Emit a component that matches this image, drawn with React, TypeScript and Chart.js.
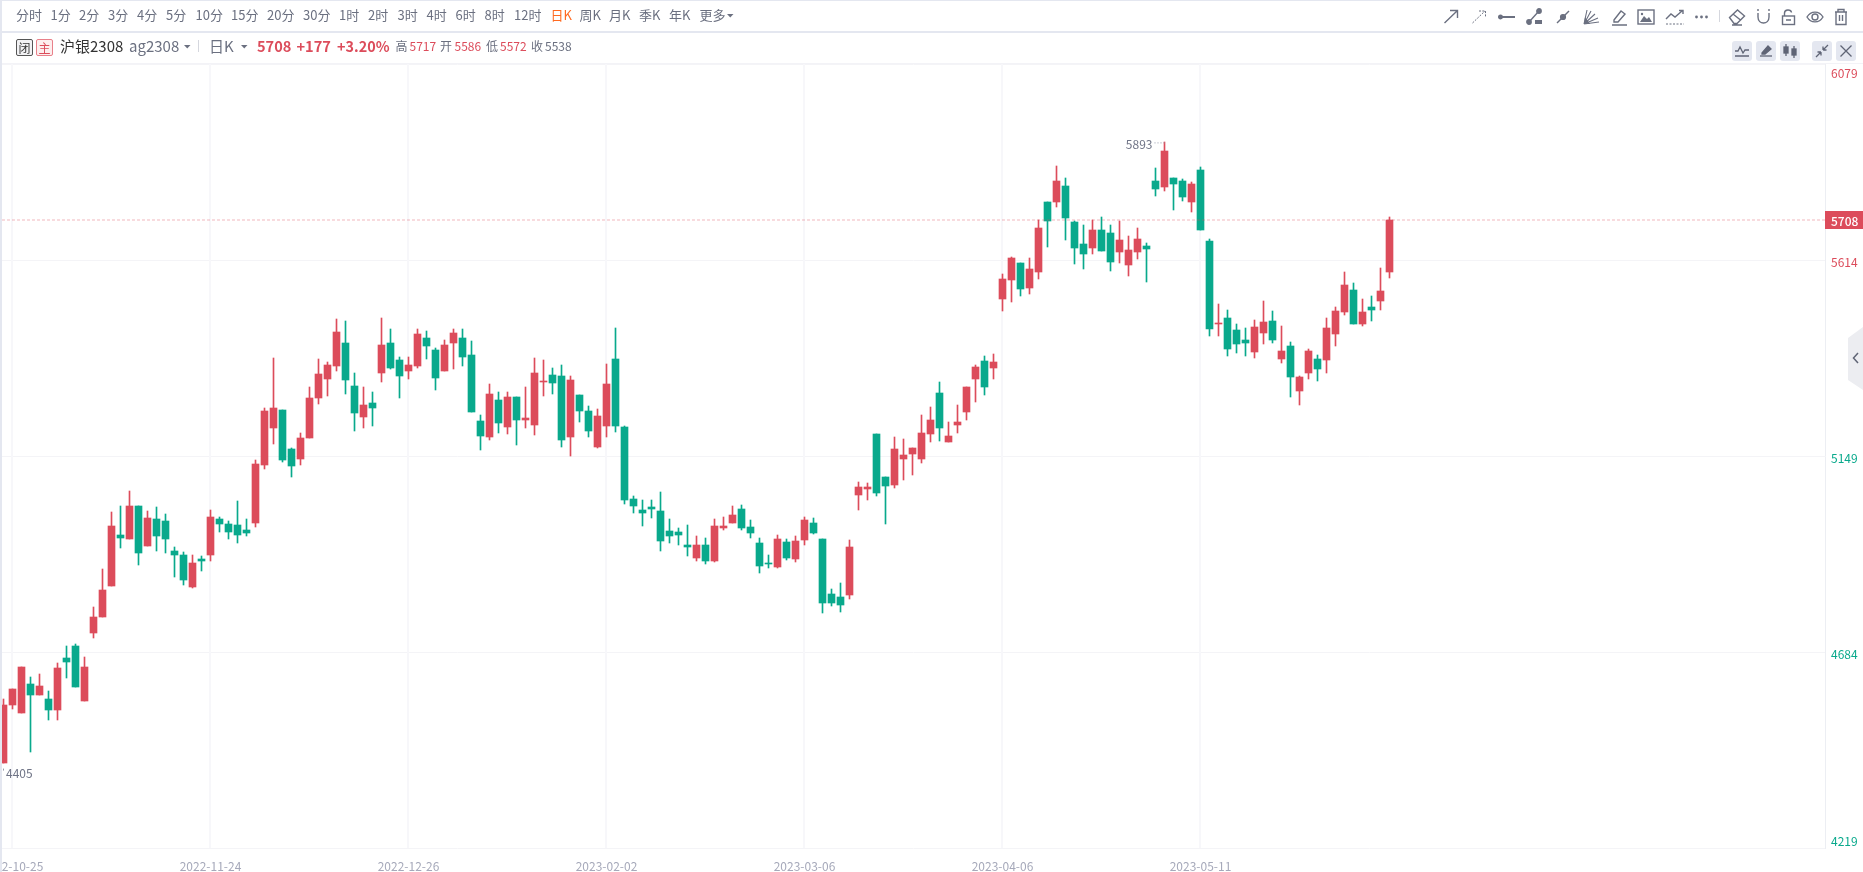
import React, { useEffect, useRef } from "react";
import { Chart, registerables } from "chart.js";

Chart.register(...registerables);

const opens = [
  4421,4558,4539,4608,4582,4572,4546,4670,4698,4568,
  4729,4767,4841,4962,4952,5030,4935,5000,4995,4924,
  4914,4838,4905,4914,5000,4988,4985,4973,4990,5128,
  5215,5258,5166,5142,5192,5287,5332,5363,5417,5315,
  5242,5275,5346,5417,5377,5351,5363,5429,5401,5351,
  5417,5429,5389,5232,5194,5282,5218,5289,5234,5223,
  5325,5341,5339,5194,5294,5256,5170,5220,5379,5218,
  5047,5021,5028,5019,4971,4969,4938,4907,4938,4900,
  4978,4990,5023,4981,4943,4895,4886,4945,4905,4950,
  4990,4952,4822,4815,4819,5057,5071,5201,5099,5080,
  5142,5154,5142,5201,5299,5182,5223,5254,5332,5375,
  5358,5522,5567,5607,5548,5586,5752,5752,5790,5704,
  5652,5643,5685,5678,5633,5602,5633,5647,5801,5787,
  5809,5801,5752,5828,5659,5462,5476,5448,5424,5396,
  5441,5469,5379,5410,5303,5346,5379,5377,5438,5491,
  5543,5462,5503,5517,5586,
];
const closes = [
  4558,4596,4648,4582,4603,4546,4646,4660,4601,4648,
  4767,4831,4983,4954,5030,4919,5002,4959,4952,4914,
  4855,4895,4900,5004,4988,4969,4962,4966,5130,5256,
  5263,5140,5125,5192,5287,5344,5365,5443,5329,5251,
  5270,5263,5412,5358,5339,5365,5438,5410,5334,5412,
  5441,5384,5253,5197,5296,5227,5289,5234,5239,5346,
  5327,5322,5187,5329,5256,5208,5244,5320,5220,5045,
  5030,5014,5023,4947,4959,4962,4933,4938,4900,4983,
  4983,5009,4978,4966,4888,4893,4952,4907,4947,4997,
  4966,4800,4800,4796,4933,5076,5076,5061,5078,5166,
  5151,5168,5204,5234,5215,5197,5230,5313,5360,5313,
  5372,5569,5619,5545,5593,5690,5707,5801,5714,5643,
  5628,5685,5635,5609,5661,5638,5664,5640,5782,5873,
  5794,5763,5794,5685,5450,5465,5403,5415,5417,5455,
  5467,5424,5398,5336,5336,5398,5355,5453,5493,5555,
  5462,5491,5495,5540,5708,
];
const highs = [
  4572,4596,4648,4625,4632,4591,4658,4698,4703,4672,
  4791,4881,5016,5030,5066,5030,5019,5028,5011,4933,
  4921,4914,4912,5021,5004,4995,5042,5000,5140,5263,
  5382,5258,5168,5204,5313,5379,5372,5474,5469,5346,
  5313,5301,5476,5450,5384,5384,5450,5446,5405,5424,
  5450,5450,5422,5246,5320,5301,5301,5289,5313,5382,
  5377,5358,5365,5339,5294,5268,5261,5367,5453,5220,
  5054,5045,5045,5064,5000,4978,4985,4959,4955,5000,
  5004,5030,5033,4997,4955,4914,4962,4952,4959,5004,
  5002,4952,4834,4848,4950,5087,5085,5201,5099,5194,
  5189,5168,5246,5265,5325,5230,5270,5313,5365,5386,
  5391,5581,5621,5607,5619,5709,5752,5837,5809,5707,
  5697,5709,5716,5697,5707,5671,5690,5654,5832,5893,
  5809,5806,5799,5835,5664,5510,5495,5462,5453,5472,
  5517,5493,5457,5419,5339,5403,5389,5476,5503,5586,
  5559,5522,5529,5595,5717,
];
const lows = [
  4421,4549,4539,4447,4582,4523,4523,4622,4601,4568,
  4717,4767,4841,4931,4952,4890,4935,4924,4919,4862,
  4843,4836,4876,4900,4969,4952,4943,4959,4981,5118,
  5178,5135,5099,5128,5192,5272,5291,5351,5296,5208,
  5215,5220,5325,5355,5287,5332,5358,5379,5306,5351,
  5355,5363,5253,5163,5187,5204,5201,5175,5215,5199,
  5291,5296,5170,5149,5230,5194,5168,5194,5206,5035,
  5013,4983,5002,4924,4943,4938,4912,4900,4893,4898,
  4973,4990,4973,4955,4871,4883,4883,4902,4898,4938,
  4964,4777,4793,4779,4810,5021,5045,5054,4988,5073,
  5092,5104,5132,5182,5185,5182,5204,5235,5277,5294,
  5332,5493,5514,5529,5533,5569,5645,5740,5661,5605,
  5593,5628,5635,5588,5607,5576,5616,5562,5766,5778,
  5733,5754,5728,5685,5434,5434,5386,5393,5386,5382,
  5415,5417,5370,5289,5270,5332,5327,5346,5410,5484,
  5462,5457,5469,5495,5572,
];

const dateLabels = ["2022-10-25", "2022-11-24", "2022-12-26", "2023-02-02", "2023-03-06", "2023-04-06", "2023-05-11"];
const dateIndices = [1, 23, 45, 67, 89, 111, 133];
const priceTicks = [6079, 5614, 5149, 4684, 4219];
const lastPrice = 5708;
const prevSettle = 5538;
const highMark = { index: 129, value: 5893 };
const lowMark = { value: 4405 };

const timeframes = ["分时","1分","2分","3分","4分","5分","10分","15分","20分","30分","1时","2时","3时","4时","6时","8时","12时","日K","周K","月K","季K","年K","更多"];
const timeframeX = [16,50.5,79,108,137,166,195.5,231,267,303,339,368,397.5,426.5,455.5,484.5,514,550.5,579.5,609,639,669,699.5];

const RED = "#dc4c5b";
const GREEN = "#09a98c";
const ICON = "#6b7080";
const FONT = '"Noto Sans CJK SC", "Noto Sans", sans-serif';

const pixelSnap = {
  id: "pixelSnap",
  beforeDatasetDraw(chart: any, args: any) {
    for (const el of args.meta.data) {
      el.x = Math.round(el.x - 0.5) + 0.5;
      const a = Math.round(el.y);
      let b = Math.round(el.base);
      if (a === b) b = a + 1;
      el.y = a;
      el.base = b;
    }
  },
};

const overlay = {
  id: "overlay",
  beforeDatasetsDraw(chart: any) {
    const { ctx, chartArea, scales } = chart;
    ctx.save();
    ctx.fillStyle = "#f7f7fa";
    for (const v of dateIndices) {
      const px = Math.floor(scales.x.getPixelForValue(v));
      ctx.fillRect(px - 1, chartArea.top, 2, chartArea.bottom - chartArea.top);
    }
    ctx.restore();
  },
  afterDatasetsDraw(chart: any) {
    const { ctx, chartArea, scales } = chart;
    const y = scales.y;
    const x = scales.x;
    ctx.save();
    // last-price dashed line
    const py = y.getPixelForValue(lastPrice);
    ctx.strokeStyle = "rgba(220,76,91,0.2)";
    ctx.lineWidth = 2;
    ctx.setLineDash([3, 2]);
    ctx.beginPath();
    ctx.moveTo(chartArea.left, Math.round(py));
    ctx.lineTo(chartArea.right, Math.round(py));
    ctx.stroke();
    ctx.setLineDash([]);
    ctx.lineWidth = 1;

    ctx.font = `12px ${FONT}`;
    ctx.textBaseline = "middle";
    ctx.textAlign = "left";
    // y labels
    for (const v of priceTicks) {
      let p = y.getPixelForValue(v) + 1;
      if (v === priceTicks[0]) p += 7;
      if (v === priceTicks[priceTicks.length - 1]) p -= 9;
      ctx.fillStyle = v > prevSettle ? RED : GREEN;
      ctx.fillText(String(v), chartArea.right + 6, p + 1);
    }
    // price tag
    ctx.fillStyle = RED;
    ctx.fillRect(chartArea.right, Math.round(py) - 9, 38, 18);
    ctx.fillStyle = "#ffffff";
    ctx.font = `500 12px ${FONT}`;
    ctx.fillText(String(lastPrice), chartArea.right + 6, py + 1);

    // extreme labels
    ctx.font = `12px ${FONT}`;
    ctx.fillStyle = "#6f7486";
    const hx = x.getPixelForValue(highMark.index);
    const hy = y.getPixelForValue(highMark.value);
    ctx.textAlign = "right";
    ctx.fillText(String(highMark.value), hx - 12, hy + 2);
    ctx.strokeStyle = "#9a9dac";
    ctx.setLineDash([1, 2]);
    ctx.beginPath();
    ctx.moveTo(hx - 10, hy + 0.5);
    ctx.lineTo(hx, hy + 0.5);
    ctx.stroke();
    const ly = y.getPixelForValue(lowMark.value);
    ctx.textAlign = "left";
    ctx.fillText(String(lowMark.value), 6, ly + 4);
    ctx.beginPath();
    ctx.moveTo(3.5, ly - 1);
    ctx.lineTo(3.5, ly + 1);
    ctx.setLineDash([]);
    ctx.stroke();
    ctx.restore();
  },
};

function Txt(p: { x: number; y: number; size?: number; color?: string; weight?: number; children: any }) {
  return (
    <div
      style={{
        position: "absolute",
        left: p.x,
        top: p.y - 12,
        height: 24,
        lineHeight: "24px",
        fontFamily: FONT,
        fontSize: p.size ?? 13,
        color: p.color ?? ICON,
        fontWeight: p.weight ?? 400,
        whiteSpace: "nowrap",
      }}
    >
      {p.children}
    </div>
  );
}

function Caret({ x, y, color }: { x: number; y: number; color?: string }) {
  return (
    <svg style={{ position: "absolute", left: x, top: y }} width={7} height={4}>
      <path d="M0 0H6.5L3.25 3.5Z" fill={color ?? ICON} />
    </svg>
  );
}

function Ic({ x, w, y = 8, h = 18, children }: { x: number; w: number; y?: number; h?: number; children: any }) {
  return (
    <svg
      style={{ position: "absolute", left: x, top: y }}
      width={w}
      height={h}
      viewBox={`0 0 ${w} ${h}`}
      fill="none"
      stroke={ICON}
      strokeWidth={1.4}
    >
      {children}
    </svg>
  );
}

function Btn({ x, children }: { x: number; children: any }) {
  return (
    <div style={{ position: "absolute", left: x, top: 41, width: 20, height: 20, borderRadius: 3, background: "#e4e7f0" }}>
      <svg width={20} height={20} fill="none" stroke="#5f6475" strokeWidth={1.3} style={{ display: "block" }}>
        {children}
      </svg>
    </div>
  );
}

export default function App() {
  const ref = useRef<HTMLCanvasElement>(null);
  useEffect(() => {
    const colors = opens.map((o, i) => (closes[i] >= o ? RED : GREEN));
    const chart = new Chart(ref.current!, {
      type: "bar",
      data: {
        datasets: [
          {
            data: opens.map((_, i) => ({ x: i, y: [lows[i], highs[i]] })),
            backgroundColor: colors,
            barThickness: 1,
            grouped: false,
          } as any,
          {
            data: opens.map((o, i) => ({ x: i, y: [o, closes[i]] })),
            backgroundColor: colors,
            barThickness: 7,
            grouped: false,
          } as any,
        ],
      },
      plugins: [pixelSnap, overlay],
      options: {
        responsive: false,
        animation: false,
        devicePixelRatio: 1,
        layout: { padding: { left: 2, top: 64, right: 0, bottom: 0 } },
        plugins: { legend: { display: false }, tooltip: { enabled: false } },
        events: [],
        scales: {
          x: {
            type: "linear",
            offset: false,
            min: -1.5 / 9,
            max: 1821.5 / 9,
            afterBuildTicks: (s: any) => {
              s.ticks = dateIndices.map((value) => ({ value }));
            },
            afterFit: (s: any) => {
              s.height = 24;
              s.paddingLeft = 0;
              s.paddingRight = 0;
            },
            grid: { display: false, offset: false },
            border: { display: false },
            ticks: {
              autoSkip: false,
              maxRotation: 0,
              padding: 3,
              color: "#a6a9ba",
              font: { family: FONT, size: 12 },
              callback: (v: any) => dateLabels[dateIndices.indexOf(v)] ?? "",
            },
          },
          y: {
            type: "linear",
            position: "right",
            min: priceTicks[priceTicks.length - 1],
            max: priceTicks[0],
            afterBuildTicks: (s: any) => {
              s.ticks = priceTicks.map((value) => ({ value }));
            },
            afterFit: (s: any) => {
              s.width = 38;
            },
            grid: { color: "#f4f4f7", lineWidth: 1, drawTicks: false },
            border: { display: true, color: "#eceef3" },
            ticks: { display: false },
          },
        },
      } as any,
    });
    return () => chart.destroy();
  }, []);

  return (
    <div style={{ position: "absolute", left: 0, top: 0, width: 1863, height: 872, overflow: "hidden", background: "#fff" }}>
      <canvas ref={ref} width={1863} height={872} style={{ position: "absolute", left: 0, top: 0, display: "block" }} />
      {/* frame */}
      <div style={{ position: "absolute", left: 0, top: 0, width: 2, height: 872, background: "#e4e7f0" }} />
      <div style={{ position: "absolute", left: 0, top: 0, width: 1863, height: 1, background: "#e4e7f0" }} />
      <div style={{ position: "absolute", left: 0, top: 31, width: 1863, height: 2, background: "#e4e7f0" }} />
      <div style={{ position: "absolute", left: 2, top: 63, width: 1861, height: 1, background: "#f3f3f7" }} />

      {/* toolbar */}
      {timeframes.map((t, i) => (
        <Txt key={t} x={timeframeX[i]} y={15} color={t === "日K" ? "#ff6a21" : ICON}>
          {t}
        </Txt>
      ))}
      <Caret x={727} y={14} />

      {/* symbol row */}
      <div style={{ position: "absolute", left: 16, top: 39, width: 15, height: 15, border: "1px solid #555", borderRadius: 2, background: "#f2f2f4", fontFamily: FONT, fontSize: 12, lineHeight: "15px", textAlign: "center", color: "#333" }}>闭</div>
      <div style={{ position: "absolute", left: 36, top: 39, width: 15, height: 15, border: "1px solid #e8808a", borderRadius: 2, background: "#fdeeee", fontFamily: FONT, fontSize: 12, lineHeight: "15px", textAlign: "center", color: RED }}>主</div>
      <Txt x={60} y={45.5} size={15} color="#333">沪银2308</Txt>
      <Txt x={129} y={45.5} size={15}>ag2308</Txt>
      <Caret x={184} y={45} />
      <div style={{ position: "absolute", left: 198, top: 40, width: 1, height: 12, background: "#d5d7de" }} />
      <Txt x={209} y={45.5} size={15}>日K</Txt>
      <Caret x={241} y={45} />
      <Txt x={257} y={45.5} size={14.6} color={RED} weight={700}>5708</Txt>
      <Txt x={296.5} y={45.5} size={14.6} color={RED} weight={700}>+177</Txt>
      <Txt x={337} y={45.5} size={14.4} color={RED} weight={700}>+3.20%</Txt>
      <Txt x={395.5} y={45.5} size={12}>高</Txt>
      <Txt x={409.5} y={45.5} size={12} color={RED}>5717</Txt>
      <Txt x={440} y={45.5} size={12}>开</Txt>
      <Txt x={454.5} y={45.5} size={12} color={RED}>5586</Txt>
      <Txt x={486} y={45.5} size={12}>低</Txt>
      <Txt x={500} y={45.5} size={12} color={RED}>5572</Txt>
      <Txt x={531} y={45.5} size={12}>收</Txt>
      <Txt x={545} y={45.5} size={12}>5538</Txt>

      {/* drawing tools */}
      <Ic x={1443} w={16}><path d="M1.5 15L14 3M7 2.5H14.5V10" /></Ic>
      <Ic x={1471} w={16}><path d="M1.5 15L14 3M8 3H14.5V9" strokeDasharray="2 1.3" strokeWidth={1} /></Ic>
      <Ic x={1498} w={18}><path d="M1 9H17" strokeWidth={2} /><circle cx={2.5} cy={9} r={1.8} fill={ICON} /></Ic>
      <Ic x={1526} w={18}><path d="M3 14L13 3" /><circle cx={3} cy={14} r={2.2} fill={ICON} /><circle cx={13} cy={3} r={2.2} fill={ICON} /><rect x={9} y={12} width={7} height={4} fill={ICON} stroke="none" /></Ic>
      <Ic x={1555} w={16}><path d="M2 15L14 3" /><circle cx={8} cy={9} r={2.4} fill={ICON} /></Ic>
      <Ic x={1582} w={18}>
        <path d="M2 16L5 2M2 16L9 3M2 16L13 6M2 16L16 10M2 16L17 14" strokeWidth={1.1} />
        <path d="M2 16H8L3 9Z" fill={ICON} stroke="none" />
      </Ic>
      <Ic x={1611} w={17}><path d="M3 12L10 3L14 6L7 14H3ZM1 17H16" /></Ic>
      <Ic x={1637} w={18} y={9} h={16}>
        <rect x={1} y={1} width={16} height={14} />
        <path d="M3 13L7 7L10 10L12 8L15 13Z" fill={ICON} stroke="none" />
        <circle cx={5} cy={5} r={1.2} fill={ICON} stroke="none" />
      </Ic>
      <Ic x={1665} w={20}><path d="M1 11L6 6L10 9L17 3M14 2.5H18V6" /><path d="M1 16H19" strokeDasharray="2 1.5" strokeWidth={1} /></Ic>
      <Ic x={1694} w={15}>
        <circle cx={2.5} cy={9} r={1.4} fill={ICON} stroke="none" />
        <circle cx={7.5} cy={9} r={1.4} fill={ICON} stroke="none" />
        <circle cx={12.5} cy={9} r={1.4} fill={ICON} stroke="none" />
      </Ic>
      <div style={{ position: "absolute", left: 1719, top: 10, width: 1, height: 12, background: "#d5d7de" }} />
      <Ic x={1728} w={18}><path d="M1.5 9.5L9.5 2L16.5 8L9 15.5H6ZM5 6L12.5 12M4 17H14" /></Ic>
      <Ic x={1756} w={15}><path d="M2 1V3M13 1V3M2 5V9C2 17 13 17 13 9V5" /></Ic>
      <Ic x={1781} w={15}><rect x={1.5} y={8} width={12} height={8.5} /><path d="M3.5 8V5C3.5 1 10 1 10.5 4.5M5 12H10" /></Ic>
      <Ic x={1806} w={18}><path d="M1 9C5 2.5 13 2.5 17 9C13 15.5 5 15.5 1 9Z" /><circle cx={9} cy={9} r={3} /></Ic>
      <Ic x={1833} w={16}><path d="M2 4H14M5 4V1.5H11V4M3 4V16.5H13V4M6.5 7V13M9.5 7V13" /></Ic>

      {/* panel buttons */}
      <Btn x={1732}><path d="M3 15H17M3 10H6L8 6L11 12L13 9H17" /></Btn>
      <Btn x={1756}><path d="M4 15H16" /><path d="M6 12L12 5L15 8L9 13H6Z" fill="#5f6475" /></Btn>
      <Btn x={1780}>
        <path d="M6 3V15M14 5V17" />
        <rect x={4} y={6} width={4} height={6} fill="#5f6475" />
        <rect x={12} y={8} width={4} height={6} fill="#5f6475" />
      </Btn>
      <Btn x={1812}><path d="M4 16L9 11M9 11H5.5M9 11V14.5M16 4L11 9M11 9H14.5M11 9V5.5" /></Btn>
      <Btn x={1836}><path d="M4.5 4.5L15.5 15.5M15.5 4.5L4.5 15.5" /></Btn>

      {/* side tab */}
      <svg style={{ position: "absolute", left: 1848, top: 327 }} width={15} height={63}>
        <path d="M15 0L0 11V53L15 63Z" fill="#ecedf1" />
        <path d="M10 26L5.5 31L10 36" fill="none" stroke="#5f6475" strokeWidth={1.5} />
      </svg>
    </div>
  );
}
